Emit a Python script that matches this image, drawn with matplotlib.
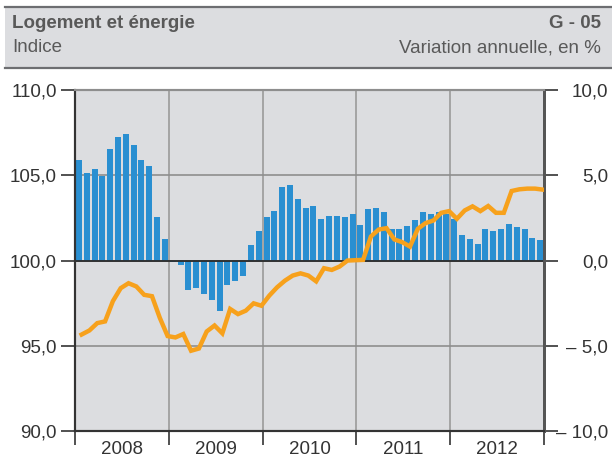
import numpy as np
import matplotlib
matplotlib.use('Agg')
import matplotlib.pyplot as plt
from matplotlib.patches import Rectangle
from matplotlib.lines import Line2D

plt.rcParams['font.family'] = ['Liberation Sans', 'DejaVu Sans']

years = ['2008', '2009', '2010', '2011', '2012']

# variation annuelle, en % (barres, axe de droite)
variation = [5.88, 5.12, 5.35, 4.94, 6.53, 7.24, 7.41, 6.76, 5.88, 5.53, 2.53, 1.24,
             -0.10, -0.24, -1.70, -1.59, -1.94, -2.29, -2.94, -1.41, -1.18, -0.88, 0.94, 1.76,
             2.53, 2.88, 4.29, 4.41, 3.59, 3.06, 3.18, 2.41, 2.59, 2.59, 2.53, 2.71,
             2.06, 3.00, 3.06, 2.82, 1.88, 1.88, 2.00, 2.35, 2.82, 2.71, 2.82, 2.71,
             2.41, 1.47, 1.24, 1.00, 1.88, 1.71, 1.88, 2.12, 1.94, 1.88, 1.35, 1.18]

# indice (ligne, axe de gauche)
indice = [95.66, 95.90, 96.33, 96.43, 97.62, 98.38, 98.67, 98.48, 97.99, 97.91, 96.64, 95.57,
          95.49, 95.69, 94.71, 94.84, 95.84, 96.19, 95.73, 97.16, 96.86, 97.06, 97.49, 97.35,
          97.94, 98.43, 98.82, 99.12, 99.25, 99.12, 98.78, 99.55, 99.45, 99.65, 100.00, 100.02,
          100.04, 101.41, 101.82, 101.90, 101.24, 101.08, 100.82, 101.86, 102.20, 102.35, 102.80, 102.90,
          102.45, 102.94, 103.18, 102.90, 103.20, 102.80, 102.80, 104.08, 104.18, 104.22, 104.22, 104.16]

left_ticks = [90, 95, 100, 105, 110]
left_labels = ['90,0', '95,0', '100,0', '105,0', '110,0']
right_ticks = [-10, -5, 0, 5, 10]
right_labels = ['\u2013 10,0', '\u2013 5,0', '0,0', '5,0', '10,0']

text_col = '#595959'
bg = '#dcdde0'
fs = 13.5
months = np.arange(len(variation))

fig = plt.figure(figsize=(6.12, 4.55), dpi=100)

# bandeau du titre
fig.patches.append(Rectangle((0.008, 0.851), 0.992, 0.134, transform=fig.transFigure,
                             facecolor=bg, edgecolor='none'))
for yy in (0.985, 0.851):
    fig.lines.append(Line2D([0.008, 1.0], [yy, yy], transform=fig.transFigure,
                            color='#6d6e71', lw=1.6))
fig.text(0.02, 0.949, 'Logement et énergie', fontsize=fs, fontweight='bold', color=text_col, va='center')
fig.text(0.982, 0.949, 'G - 05', fontsize=fs, fontweight='bold', color=text_col, va='center', ha='right')
fig.text(0.02, 0.895, 'Indice', fontsize=fs, color=text_col, va='center')
fig.text(0.982, 0.895, 'Variation annuelle, en %', fontsize=fs, color=text_col, va='center', ha='right')

ax = fig.add_axes([0.1225, 0.0527, 0.7665, 0.7493])
ax2 = ax.twinx()

ax.set_facecolor(bg)
ax.bar(months, variation, width=0.77, color='#2a8fd1', zorder=2)
ax.axhline(0, color='#2b2b2b', lw=1.3, zorder=3)
ax.set_ylim(-10, 10)
ax.set_xlim(-0.5, len(months) - 0.5)
ax.set_axisbelow(True)

ax.yaxis.tick_right()
ax.set_yticks(right_ticks)
ax.set_yticklabels(right_labels)
ax.grid(axis='y', color='#8e8e8e', lw=1.2)

bounds = np.arange(0, len(months) + 1, 12) - 0.5
ax.set_xticks(bounds)
ax.set_xticklabels([])
ax.grid(axis='x', color='#9a9a9a', lw=1.2)
ax.set_xticks(np.arange(5.5, len(months), 12), minor=True)
ax.set_xticklabels(years, minor=True)
ax.tick_params(axis='x', which='major', direction='out', length=10, width=1.2, color='#333333')
ax.tick_params(axis='x', which='minor', length=0, pad=7, labelsize=fs, labelcolor='#333333')

ax.tick_params(axis='y', direction='out', length=10, width=1.2, color='#333333',
               labelsize=fs, labelcolor='#333333', pad=36)
for lab in ax.get_yticklabels():
    lab.set_horizontalalignment('right')

ax2.plot(months + 0.35, indice, color='#f7a11c', lw=3.2, solid_joinstyle='miter', zorder=4)
ax2.set_ylim(90, 110)
ax2.yaxis.tick_left()
ax2.set_yticks(left_ticks)
ax2.set_yticklabels(left_labels)
ax2.tick_params(axis='y', direction='out', length=10, width=1.2, color='#333333',
                labelsize=fs, labelcolor='#333333', pad=3)

for a in (ax, ax2):
    a.spines['left'].set_color('#333333')
    a.spines['left'].set_linewidth(1.5)
    a.spines['bottom'].set_color('#333333')
    a.spines['bottom'].set_linewidth(1.5)
    a.spines['right'].set_color('#555555')
    a.spines['right'].set_linewidth(2)
    a.spines['top'].set_color('#8e8e8e')
    a.spines['top'].set_linewidth(1.5)

fig.savefig('out.png', dpi=100)
